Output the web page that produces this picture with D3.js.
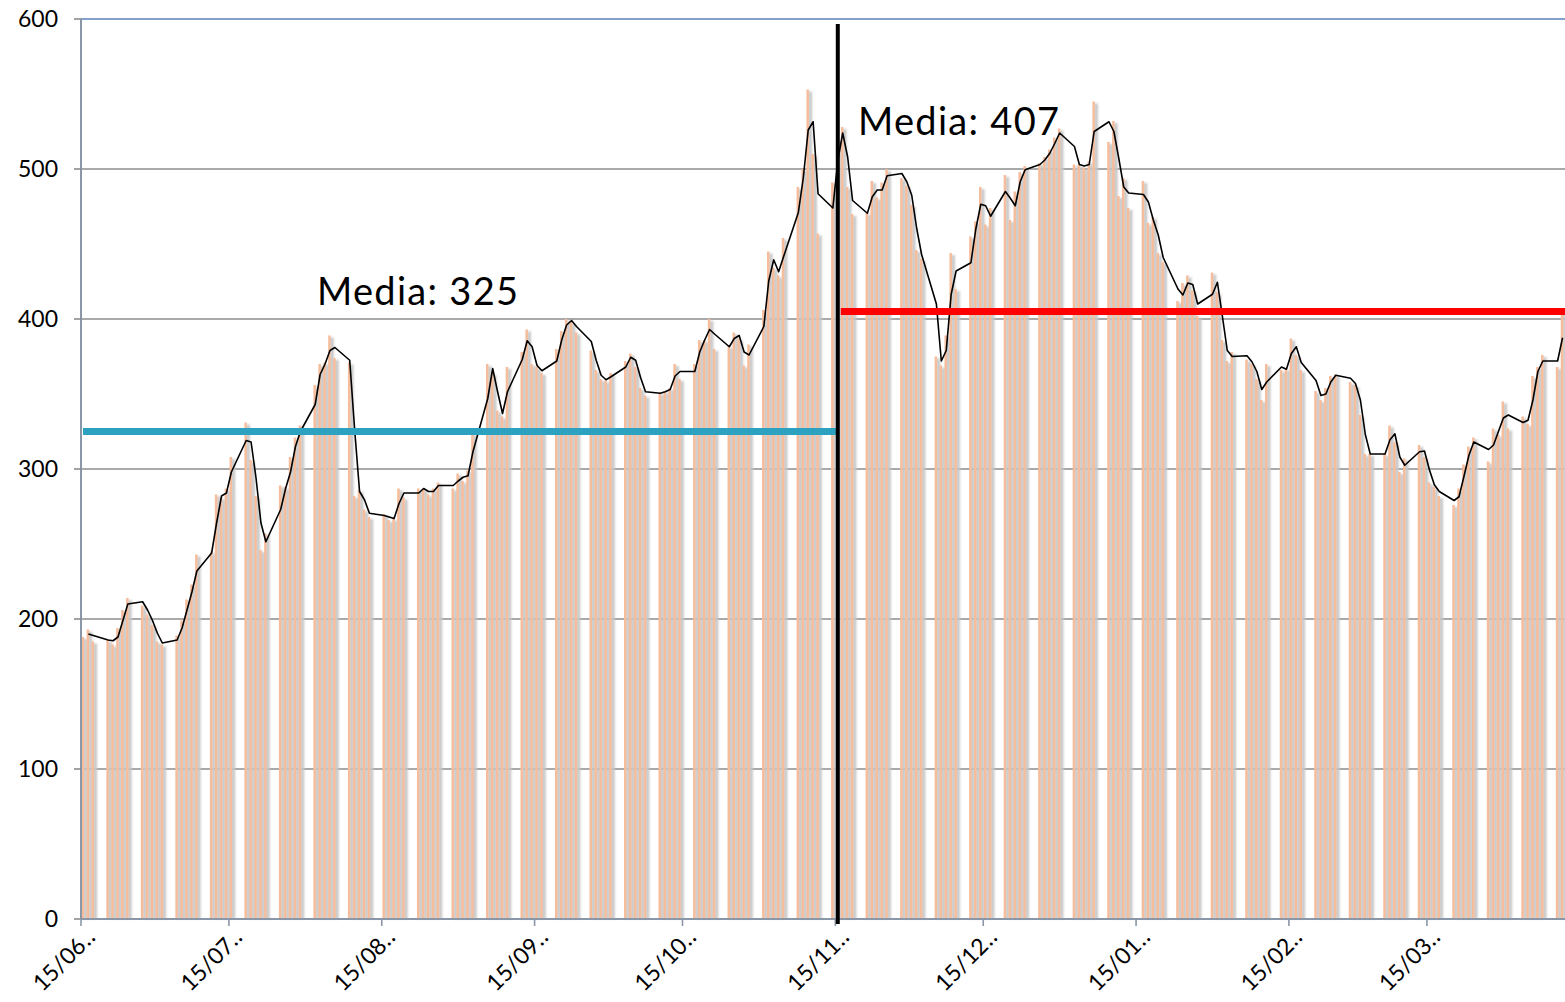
<!DOCTYPE html>
<html>
<head>
<meta charset="utf-8">
<script src="https://cdn.jsdelivr.net/npm/d3@7"></script>
<style>
  body { margin: 0; background: #fff; }
  svg { display: block; }
</style>
</head>
<body>
<div id="chart"></div>
<script>
// daily values, one row per week (Mon..Fri), weekends have no bar
const firstMonday = "2016-06-13";

const barWeeks = [
  [null, null, 188, 193, 185],
  [186, 183, 194, 206, 214],
  [209, 203, 196, 185, 183],
  [189, 199, 213, 223, 243],
  [245, 283, 281, 287, 308],
  [331, 306, 282, 246, 257],
  [289, 288, 308, 321, 329],
  [356, 370, 371, 389, 374],
  [371, 282, 286, 273, 268],
  [270, 266, 267, 287, 281],
  [287, 287, 283, 287, 291],
  [287, 297, 292, 299, 324],
  [370, 364, 339, 335, 368],
  [378, 393, 370, 368, 364],
  [380, 392, 400, 398, 391],
  [379, 366, 360, 359, 364],
  [372, 377, 368, 354, 349],
  [351, 352, 354, 370, 360],
  [370, 386, 386, 400, 380],
  [382, 391, 387, 369, 383],
  [406, 445, 434, 429, 454],
  [488, 500, 553, 510, 457],
  [491, 520, 528, 488, 470],
  [471, 492, 481, 491, 500],
  [494, 489, 476, 446, 440],
  [375, 369, 389, 444, 420],
  [455, 465, 488, 463, 474],
  [496, 466, 485, 498, 502],
  [504, 508, 513, 521, 527],
  [503, 503, 501, 505, 545],
  [518, 532, 482, 494, 474],
  [492, 464, 468, 444, 438],
  [412, 424, 429, 419, 402],
  [431, 418, 386, 372, 378],
  [373, 370, 360, 346, 370],
  [366, 367, 387, 376, 366],
  [352, 346, 354, 362, 363],
  [358, 356, 336, 310, 310],
  [310, 329, 318, 298, 307],
  [316, 308, 291, 288, 282],
  [276, 287, 303, 315, 321],
  [305, 327, 323, 345, 327],
  [335, 330, 362, 368, 376],
  [368, 407, null, null, null]
];

// black trend line (2 day moving average as drawn in the picture)
const trendWeeks = [
  [null, null, null, 190, 189],
  [186, 185.5, 188, 199, 210],
  [211.5, 206, 199, 190.5, 184],
  [186, 194, 206, 218, 232],
  [244, 264, 282, 284, 298],
  [319, 318, 294, 264, 251.5],
  [273, 287, 298, 315, 325],
  [343, 363, 370, 379, 381],
  [372.5, 326.5, 285, 279.5, 270.5],
  [269, 268, 267, 277, 284],
  [284, 287, 285, 285, 289],
  [289, 292, 294.5, 295.5, 311.5],
  [347, 367, 351.5, 337, 351.5],
  [373, 385.5, 381.5, 369, 365.5],
  [372, 386, 396, 399, 395],
  [385, 372.5, 362.5, 359.5, 361.5],
  [368, 374.5, 372.5, 361, 351.5],
  [350.5, 351.5, 353, 362, 365],
  [365, 378, 386, 393, 390],
  [381.5, 387, 389, 378, 376],
  [395, 425.5, 439.5, 431.5, 441.5],
  [471, 494, 526, 531.5, 483.5],
  [474, 505.5, 524, 508, 479],
  [470.5, 481.5, 486, 486, 495.5],
  [497, 491.5, 482.5, 460.5, 443],
  [410, 372, 379, 416.5, 432],
  [437.5, 460, 476.5, 475.5, 468.5],
  [485, 480.5, 475.5, 491.5, 499.5],
  [503, 506, 510.5, 517, 524],
  [515, 503, 502, 503, 525],
  [531.5, 525, 507, 488, 484],
  [483, 478, 466, 456, 441],
  [420, 416, 424, 423, 410],
  [416.5, 424.5, 402, 379, 375],
  [375.5, 371.5, 365, 353, 358],
  [368, 366.5, 377, 381.5, 371],
  [359, 349, 350, 358, 362.5],
  [360.5, 357, 346, 323, 310],
  [310, 319.5, 323.5, 308, 302.5],
  [311.5, 312, 299.5, 289.5, 285],
  [279, 281.5, 295, 309, 318],
  [313, 316, 325, 334, 336],
  [331, 332.5, 346, 365, 372],
  [372, 387.5, null, null, null]
];

const yTicks = [0, 100, 200, 300, 400, 500, 600];
const xTickDates = ["2016-06-15", "2016-07-15", "2016-08-15", "2016-09-15", "2016-10-15",
                    "2016-11-15", "2016-12-15", "2017-01-15", "2017-02-15", "2017-03-15"];
const xTickLabels = ["15/06\u2025", "15/07\u2025", "15/08\u2025", "15/09\u2025", "15/10\u2025",
                     "15/11\u2025", "15/12\u2025", "15/01\u2025", "15/02\u2025", "15/03\u2025"];

// the two period averages drawn by hand on the chart
const meanLabels = ["Media: 325", "Media: 407"];
const meanLevels = [325, 405];
const meanFrom = ["2016-06-15", "2016-11-15"];
const meanTo = ["2016-11-15", "2017-04-12"];
const splitDate = "2016-11-15";

const parse = d3.timeParse("%Y-%m-%d");
const W = 1565, H = 1002;
const plot = {left: 81, right: 1565, top: 19, bottom: 919};

const x = d3.scaleTime()
  .domain([parse("2016-06-15"), parse("2017-04-12")])
  .range([plot.left, plot.right]);
const y = d3.scaleLinear().domain([0, 600]).range([plot.bottom, plot.top]);
const dayW = x(parse("2016-06-16")) - x(parse("2016-06-15"));

const days = [];
barWeeks.forEach((week, w) => {
  week.forEach((v, i) => {
    if (v == null) return;
    days.push({
      date: d3.timeDay.offset(parse(firstMonday), w * 7 + i),
      bar: v,
      trend: trendWeeks[w][i]
    });
  });
});

const svg = d3.select("#chart").append("svg")
  .attr("width", W)
  .attr("height", H)
  .style("font-family", "Lato, 'Open Sans', sans-serif");

const defs = svg.append("defs");
defs.append("filter").attr("id", "soft")
  .attr("x", "-50%").attr("width", "200%")
  .append("feGaussianBlur").attr("stdDeviation", 0.9);

// grid
svg.append("g").selectAll("line")
  .data(yTicks.filter(d => d > 0))
  .join("line")
  .attr("x1", plot.left).attr("x2", plot.right)
  .attr("y1", d => y(d)).attr("y2", d => y(d))
  .attr("stroke", d => d === 600 ? "#5a82b6" : "#8c8c8c")
  .attr("stroke-width", 1.6);

// bar shadows then bars
svg.append("g").attr("filter", "url(#soft)")
  .selectAll("rect")
  .data(days)
  .join("rect")
  .attr("x", d => x(d.date) + 2.6)
  .attr("width", 3.6)
  .attr("y", d => y(d.bar) + 2)
  .attr("height", d => y(0) - y(d.bar) - 2)
  .attr("fill", "#c6c6c6");

svg.append("g")
  .selectAll("rect")
  .data(days)
  .join("rect")
  .attr("x", d => x(d.date) + 0.7)
  .attr("width", 2.5)
  .attr("y", d => y(d.bar))
  .attr("height", d => y(0) - y(d.bar))
  .attr("fill", "#f6bd9c");

// axes
const yAxis = svg.append("g");
yAxis.append("line")
  .attr("x1", plot.left).attr("x2", plot.left)
  .attr("y1", plot.top).attr("y2", plot.bottom)
  .attr("stroke", "#8a97a8").attr("stroke-width", 2);
yAxis.selectAll(".tick")
  .data(yTicks)
  .join("line")
  .attr("x1", plot.left - 7).attr("x2", plot.left)
  .attr("y1", d => y(d)).attr("y2", d => y(d))
  .attr("stroke", "#8c8c8c").attr("stroke-width", 1.6);
yAxis.selectAll("text")
  .data(yTicks)
  .join("text")
  .attr("x", 58)
  .attr("y", d => y(d))
  .attr("dy", "0.36em")
  .attr("text-anchor", "end")
  .attr("font-size", 23)
  .text(d => d);

const xAxis = svg.append("g");
xAxis.append("line")
  .attr("x1", plot.left).attr("x2", plot.right)
  .attr("y1", plot.bottom).attr("y2", plot.bottom)
  .attr("stroke", "#8a97a8").attr("stroke-width", 2);
xAxis.selectAll(".tick")
  .data(xTickDates)
  .join("line")
  .attr("x1", d => x(parse(d))).attr("x2", d => x(parse(d)))
  .attr("y1", plot.bottom).attr("y2", plot.bottom + 7)
  .attr("stroke", "#8a97a8").attr("stroke-width", 1.6);
xAxis.selectAll("text")
  .data(xTickDates)
  .join("text")
  .attr("transform", d => `translate(${x(parse(d)) + 15},${plot.bottom + 20}) rotate(-45)`)
  .attr("text-anchor", "end")
  .attr("font-size", 23)
  .text((d, i) => xTickLabels[i]);

// trend line
svg.append("path")
  .datum(days.filter(d => d.trend != null))
  .attr("fill", "none")
  .attr("stroke", "#000")
  .attr("stroke-width", 1.6)
  .attr("stroke-linejoin", "round")
  .attr("d", d3.line()
    .x(d => x(d.date) + dayW / 2)
    .y(d => y(d.trend)));

// average lines
const meanColors = ["#2ca2c0", "#ff0000"];
svg.append("g").selectAll("line")
  .data(meanLevels)
  .join("line")
  .attr("x1", (d, i) => x(parse(meanFrom[i])) + (i ? dayW / 2 + 3 : 2))
  .attr("x2", (d, i) => i ? plot.right : x(parse(meanTo[i])) + dayW / 2)
  .attr("y1", d => y(d)).attr("y2", d => y(d))
  .attr("stroke", (d, i) => meanColors[i])
  .attr("stroke-width", 7);

// split marker
svg.append("line")
  .attr("x1", x(parse(splitDate)) + dayW / 2)
  .attr("x2", x(parse(splitDate)) + dayW / 2)
  .attr("y1", 24).attr("y2", plot.bottom + 5)
  .attr("stroke", "#000").attr("stroke-width", 4);

// labels
const labelPos = [[317, 305], [858, 135]];
svg.append("g").selectAll("text")
  .data(meanLabels)
  .join("text")
  .attr("x", (d, i) => labelPos[i][0])
  .attr("y", (d, i) => labelPos[i][1])
  .attr("font-size", 38)
  .attr("letter-spacing", 1.3)
  .text(d => d);
</script>
</body>
</html>
